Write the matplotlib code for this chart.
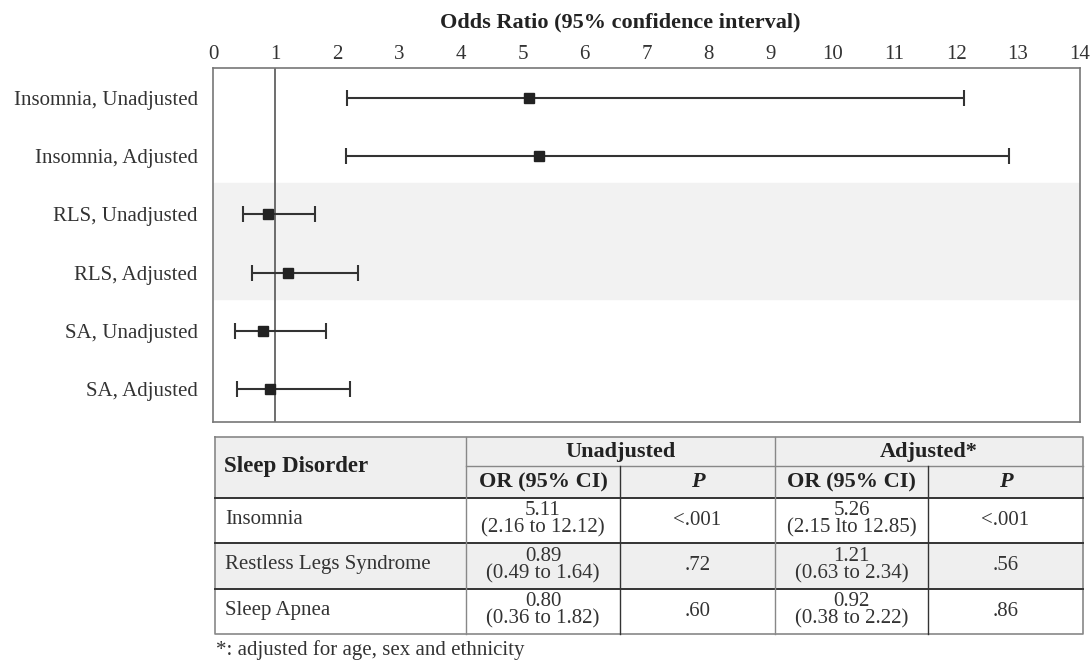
import matplotlib
import matplotlib.pyplot as plt
from matplotlib.patches import Rectangle

matplotlib.use('agg')

plt.rcParams['font.family'] = ['Liberation Serif', 'DejaVu Serif']

row_labels = ['Insomnia, Unadjusted', 'Insomnia, Adjusted',
              'RLS, Unadjusted', 'RLS, Adjusted',
              'SA, Unadjusted', 'SA, Adjusted']
odds = [5.11, 5.26, 0.89, 1.21, 0.80, 0.92]
ci_low = [2.16, 2.15, 0.49, 0.63, 0.36, 0.38]
ci_high = [12.12, 12.85, 1.64, 2.34, 1.82, 2.22]
x_ticks = list(range(0, 15))

disorders = ['Insomnia', 'Restless Legs Syndrome', 'Sleep Apnea']
unadj_or = ['5.11\n(2.16 to 12.12)', '0.89\n(0.49 to 1.64)', '0.80\n(0.36 to 1.82)']
unadj_p = ['<.001', '.72', '.60']
adj_or = ['5.26\n(2.15 lto 12.85)', '1.21\n(0.63 to 2.34)', '0.92\n(0.38 to 2.22)']
adj_p = ['<.001', '.56', '.86']

W, H = 1090, 661
fig = plt.figure(figsize=(W / 100, H / 100), dpi=100)

# forest plot
ax = fig.add_axes([213 / W, 1 - 422 / H, 867 / W, 354 / H])
ypos = list(range(len(row_labels)))
ax.axhspan(1.45, 3.45, color='#f2f2f2', zorder=0)
ax.axvline(1, color='#555555', lw=1.2, zorder=1)
lower = [o - l for o, l in zip(odds, ci_low)]
upper = [h - o for o, h in zip(odds, ci_high)]
ax.errorbar(odds, ypos, xerr=[lower, upper], fmt='s', color='#222222',
            ecolor='#333333', elinewidth=1.5, capsize=5.5, capthick=1.5,
            markersize=6.5, zorder=3)
ax.set_xlim(0, 14)
ax.set_ylim(5.57, -0.52)
ax.set_xticks(x_ticks)
ax.xaxis.tick_top()
ax.tick_params(axis='x', length=0, pad=3, labelsize=15, colors='#333333')
ax.tick_params(axis='y', length=0, pad=11, labelsize=15, colors='#333333')
ax.set_yticks(ypos)
ax.set_yticklabels(row_labels)
ax.text(0.47, 1 + 46 / 354, 'Odds Ratio (95% confidence interval)', transform=ax.transAxes,
        fontsize=16, fontweight='bold', ha='center', va='center', color='#222222')
for s in ax.spines.values():
    s.set_color('#777777')
    s.set_linewidth(1.2)

# table drawn in pixel coordinates
tb = fig.add_axes([0, 0, 1, 1], zorder=-1)
tb.set_xlim(0, W)
tb.set_ylim(H, 0)
tb.axis('off')

cols = [215, 466, 620, 775, 928, 1083]
rows = [437, 466, 498, 543, 589, 634]
grid_c = '#888888'
dark = '#333333'
head_bg = '#efefef'
fs = 15
fs_b = 16

tb.add_patch(Rectangle((cols[0], rows[0]), cols[-1] - cols[0], rows[2] - rows[0],
                       facecolor=head_bg, edgecolor='none'))
tb.add_patch(Rectangle((cols[0], rows[3]), cols[-1] - cols[0], rows[4] - rows[3],
                       facecolor=head_bg, edgecolor='none'))

# outer box and grid lines
tb.plot([cols[0], cols[-1], cols[-1], cols[0], cols[0]],
        [rows[0], rows[0], rows[-1], rows[-1], rows[0]], color=grid_c, lw=1.2)
tb.plot([cols[1], cols[-1]], [rows[1], rows[1]], color=grid_c, lw=1.0)
for r in rows[2:-1]:
    tb.plot([cols[0], cols[-1]], [r, r], color=dark, lw=1.4)
tb.plot([cols[1], cols[1]], [rows[0], rows[-1]], color=grid_c, lw=1.0)
tb.plot([cols[3], cols[3]], [rows[0], rows[-1]], color=grid_c, lw=1.0)
tb.plot([cols[2], cols[2]], [rows[1], rows[-1]], color=dark, lw=1.0)
tb.plot([cols[4], cols[4]], [rows[1], rows[-1]], color=dark, lw=1.0)

tb.text(cols[0] + 9, (rows[0] + rows[2]) / 2 - 1, 'Sleep Disorder', fontsize=16.5,
        fontweight='bold', va='center', ha='left', color='#222222')
tb.text((cols[1] + cols[3]) / 2, (rows[0] + rows[1]) / 2, 'Unadjusted', fontsize=fs_b,
        fontweight='bold', va='center', ha='center', color='#222222')
tb.text((cols[3] + cols[5]) / 2, (rows[0] + rows[1]) / 2, 'Adjusted*', fontsize=fs_b,
        fontweight='bold', va='center', ha='center', color='#222222')
for c0, c1, lab in [(cols[1], cols[2], 'OR (95% CI)'), (cols[2], cols[3], 'P'),
                    (cols[3], cols[4], 'OR (95% CI)'), (cols[4], cols[5], 'P')]:
    tb.text((c0 + c1) / 2, (rows[1] + rows[2]) / 2, lab, fontsize=fs_b,
            fontweight='bold', fontstyle='italic' if lab == 'P' else 'normal',
            va='center', ha='center', color='#222222')

for i in range(len(disorders)):
    yc = (rows[2 + i] + rows[3 + i]) / 2
    tb.text(cols[0] + 10, yc - 1, disorders[i], fontsize=fs, va='center', ha='left',
            color=dark)
    tb.text((cols[1] + cols[2]) / 2, yc - 1, unadj_or[i], fontsize=fs, va='center',
            ha='center', color=dark, linespacing=0.9)
    tb.text((cols[2] + cols[3]) / 2, yc, unadj_p[i], fontsize=fs, va='center',
            ha='center', color=dark)
    tb.text((cols[3] + cols[4]) / 2, yc - 1, adj_or[i], fontsize=fs, va='center',
            ha='center', color=dark, linespacing=0.9)
    tb.text((cols[4] + cols[5]) / 2, yc, adj_p[i], fontsize=fs, va='center',
            ha='center', color=dark)

tb.text(cols[0] + 1, 650, '*: adjusted for age, sex and ethnicity', fontsize=15,
        va='center', ha='left', color=dark)

fig.savefig('out.png', dpi=100)
